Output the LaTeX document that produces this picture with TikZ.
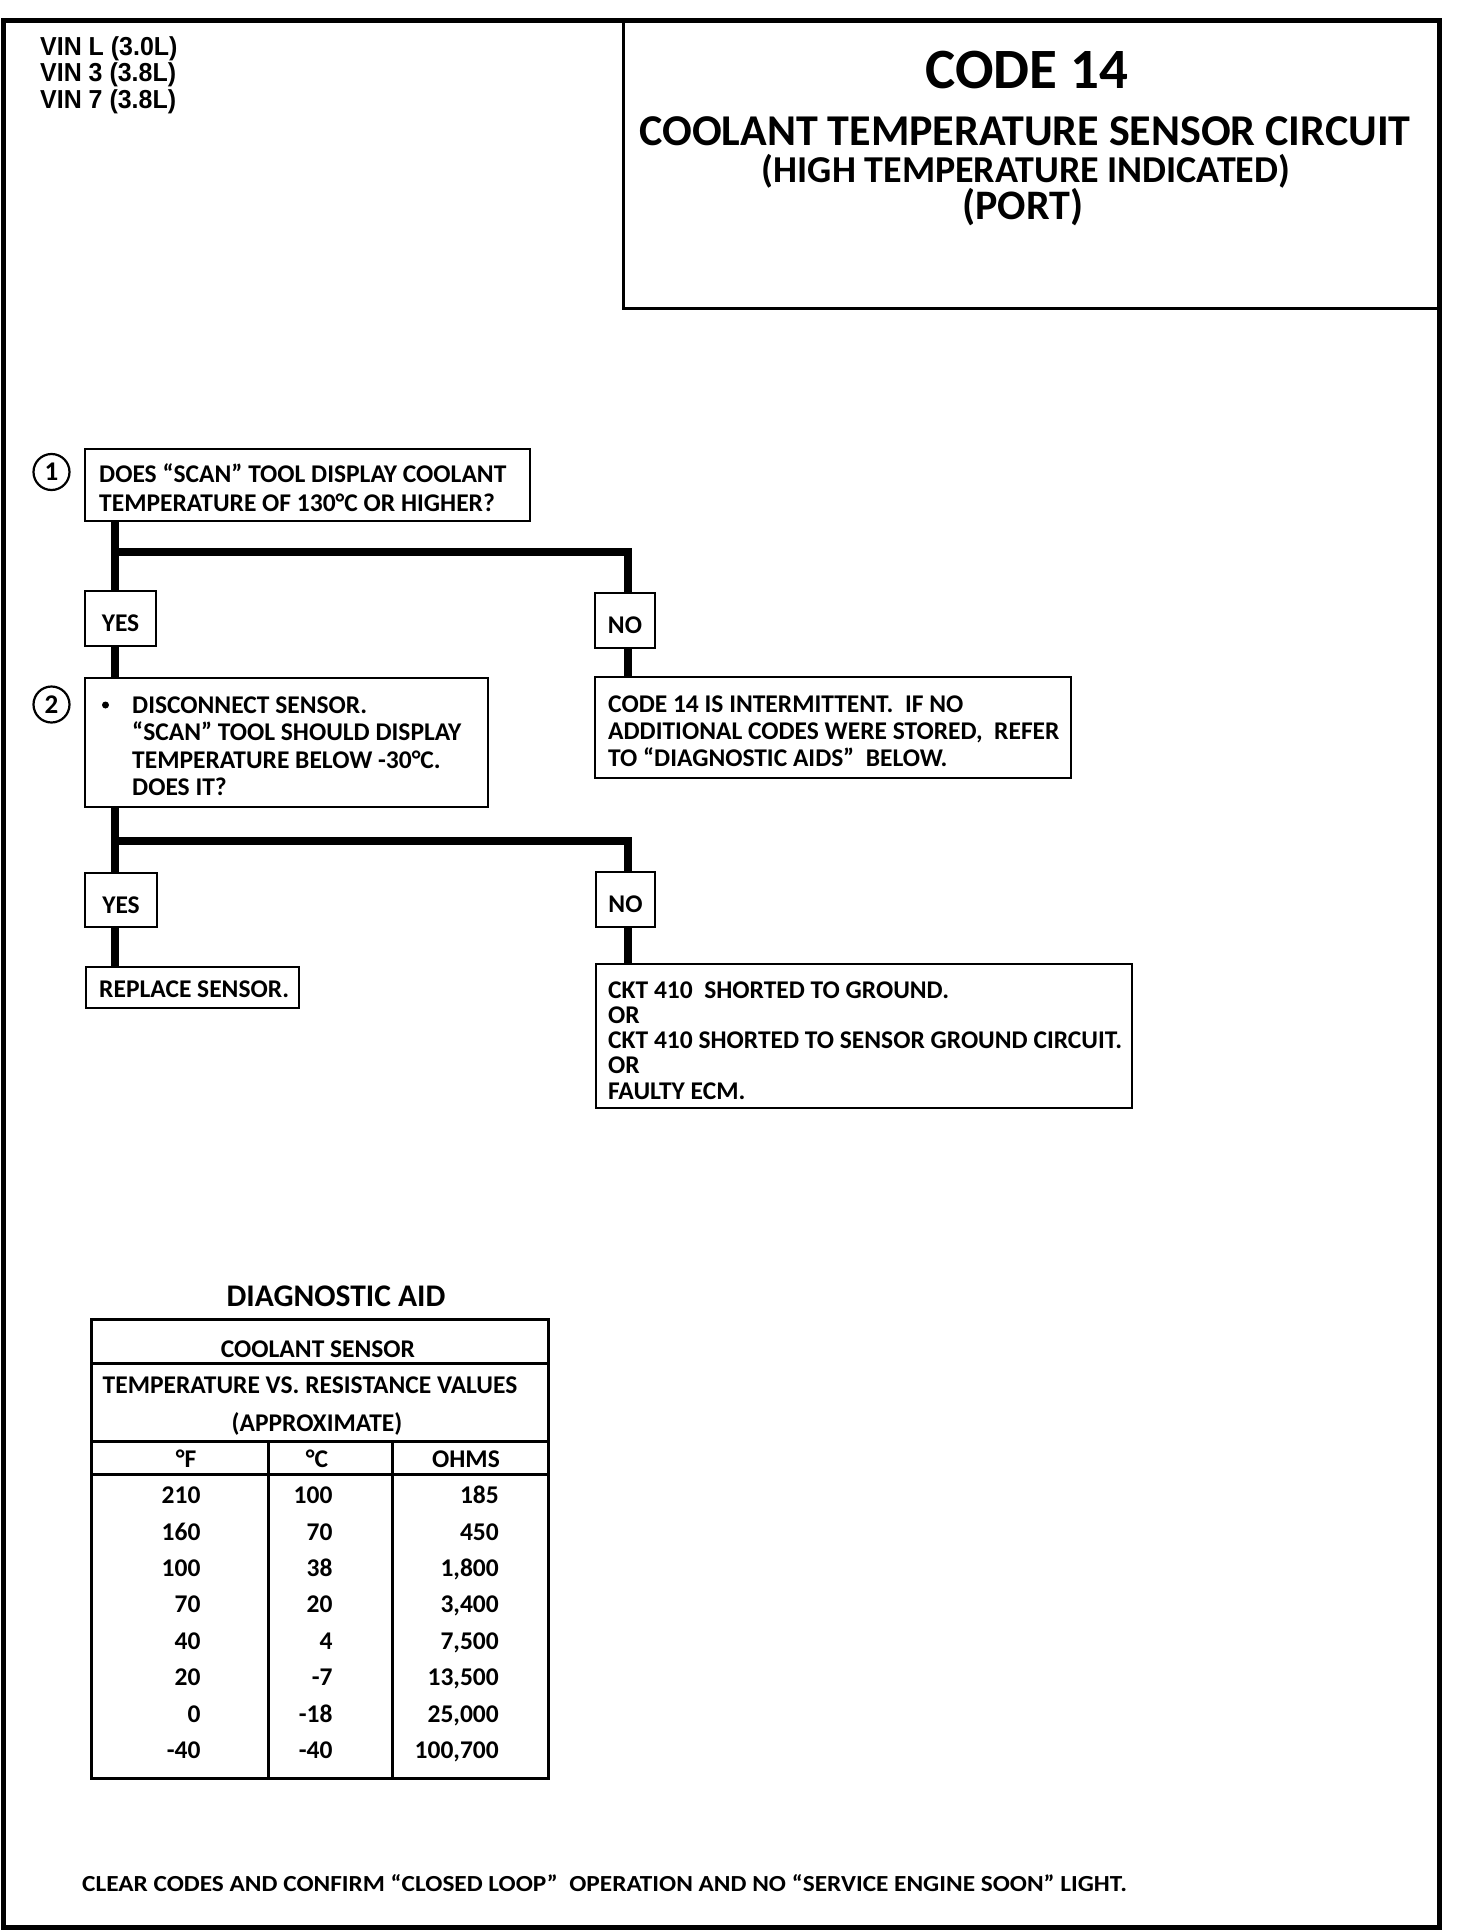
\documentclass[tikz,border=0pt]{standalone}
\usepackage{fontspec}
\setmainfont{Carlito}
\newfontfamily\vinfont{Liberation Sans}[FakeStretch=0.96]
\newfontfamily\widefont{Carlito}[FakeStretch=1.1]
\begin{document}
\begin{tikzpicture}[x=1pt,y=-1pt,
  frame/.style={line width=5pt},
  box/.style={draw, line width=2.6pt, anchor=north west, inner sep=0pt, outer sep=0pt},
  conn/.style={line width=7.5pt},
  tl/.style={anchor=base west, inner sep=0pt, font=\bfseries\fontsize{25.5}{26}\selectfont},
  tc/.style={anchor=base, inner sep=0pt, font=\bfseries\fontsize{25.5}{26}\selectfont},
  tr/.style={anchor=base east, inner sep=0pt, font=\bfseries\fontsize{25.5}{26}\selectfont},
  hd/.style={anchor=base, inner sep=0pt},
  vin/.style={anchor=base west, inner sep=0pt, font=\vinfont\bfseries\fontsize{26}{27}\selectfont},
  num/.style={circle, draw, line width=2.2pt, minimum size=36pt, inner sep=0pt, font=\bfseries\fontsize{27}{28}\selectfont},
  tline/.style={line width=3pt}
]
\useasboundingbox (0,0) rectangle (1472,1932);

% outer frame and header box
\draw[frame] (3,21) rectangle (1439,1927);
\draw[line width=3pt] (623,21) -- (623,308) -- (1439,308);

% VIN labels
\node[vin] (vin1) at (40,56) {VIN L (3.0L)};
\node[vin] (vin2) at (40,82) {VIN 3 (3.8L)};
\node[vin] (vin3) at (40,108.5) {VIN 7 (3.8L)};

% header texts
\node[hd, font=\bfseries\fontsize{57}{60}\selectfont] (code) at (1027,89) {CODE 14};
\node[hd, font=\bfseries\fontsize{44}{46}\selectfont] (title) at (1025,146) {COOLANT TEMPERATURE SENSOR CIRCUIT};
\node[hd, font=\bfseries\fontsize{38}{40}\selectfont] (sub) at (1026,182) {(HIGH TEMPERATURE INDICATED)};
\node[hd, font=\bfseries\fontsize{42}{44}\selectfont] (port) at (1023,219) {(PORT)};

% step 1
\node[num] (n1) at (51.5,472) {1};
\node[box, minimum width=445pt, minimum height=72pt] (q1) at (85,449) {};
\node[tl] (q1a) at (99,482) {DOES “SCAN” TOOL DISPLAY COOLANT};
\node[tl] (q1b) at (99,511) {TEMPERATURE OF 130°C OR HIGHER?};

\node[box, minimum width=71pt, minimum height=55pt] (yes1) at (85,591) {};
\node[tc] (yes1t) at (120.5,631) {YES};
\node[box, minimum width=60pt, minimum height=55pt] (no1) at (595,593) {};
\node[tc] (no1t) at (625,633) {NO};

\coordinate (j1) at (115,552);
\coordinate (j1r) at (628,552);

% step 2
\node[num] (n2) at (51.5,704.5) {2};
\node[box, minimum width=403pt, minimum height=129pt] (q2) at (85,678) {};
\node[circle, fill, minimum size=7pt, inner sep=0pt] (bul) at (105.5,705) {};
\node[tl] (q2a) at (132,713) {DISCONNECT SENSOR.};
\node[tl] (q2b) at (132,740.5) {“SCAN” TOOL SHOULD DISPLAY};
\node[tl] (q2c) at (132,768) {TEMPERATURE BELOW -30°C.};
\node[tl] (q2d) at (132,795.5) {DOES IT?};

% result: intermittent
\node[box, minimum width=476pt, minimum height=101pt] (r1) at (595,677) {};
\node[tl] (r1a) at (608,712.6) {CODE 14 IS INTERMITTENT.\ \ IF NO};
\node[tl] (r1b) at (608,739.7) {ADDITIONAL CODES WERE STORED,\ \ REFER};
\node[tl] (r1c) at (608,766.8) {TO “DIAGNOSTIC AIDS”\ \ BELOW.};

% second branch
\node[box, minimum width=72pt, minimum height=54pt] (yes2) at (85,873) {};
\node[tc] (yes2t) at (121,913) {YES};
\node[box, minimum width=59pt, minimum height=55pt] (no2) at (596,872) {};
\node[tc] (no2t) at (625.5,912) {NO};

\coordinate (j2) at (115,841);
\coordinate (j2r) at (628,841);

\node[box, minimum width=213pt, minimum height=41pt] (r2) at (86,967) {};
\node[tl] (r2a) at (99,997) {REPLACE SENSOR.};

\node[box, minimum width=536pt, minimum height=144pt] (r3) at (596,964) {};
\node[tl] (r3a) at (608,998) {CKT 410\ \ SHORTED TO GROUND.};
\node[tl] (r3b) at (608,1023.3) {OR};
\node[tl] (r3c) at (608,1048.6) {CKT 410 SHORTED TO SENSOR GROUND CIRCUIT.};
\node[tl] (r3d) at (608,1073.9) {OR};
\node[tl] (r3e) at (608,1099.2) {FAULTY ECM.};

% connectors
\draw[conn] (q1.south -| j1) -- (yes1.north -| j1);
\draw[conn] (j1) -- (j1r) -- (no1.north -| j1r);
\draw[conn] (yes1.south -| j1) -- (q2.north -| j1);
\draw[conn] (no1.south -| j1r) -- (r1.north -| j1r);
\draw[conn] (q2.south -| j2) -- (yes2.north -| j2);
\draw[conn] (j2) -- (j2r) -- (no2.north -| j2r);
\draw[conn] (yes2.south -| j2) -- (r2.north -| j2);
\draw[conn] (no2.south -| j2r) -- (r3.north -| j2r);

% diagnostic aid table
\node[hd, font=\bfseries\fontsize{31.5}{33}\selectfont] (dtitle) at (336,1306) {DIAGNOSTIC AID};
\node[box, line width=3pt, minimum width=457pt, minimum height=459pt] (tbl) at (91,1319) {};
\coordinate (h1) at (0,1363);
\coordinate (h2) at (0,1441);
\coordinate (h3) at (0,1474);
\coordinate (v1) at (268,0);
\coordinate (v2) at (392,0);
\draw[tline] (tbl.west |- h1) -- (tbl.east |- h1);
\draw[tline] (tbl.west |- h2) -- (tbl.east |- h2);
\draw[tline] (tbl.west |- h3) -- (tbl.east |- h3);
\draw[tline] (h2 -| v1) -- (tbl.south -| v1);
\draw[tline] (h2 -| v2) -- (tbl.south -| v2);

\node[tc] (t1) at (318,1357) {COOLANT SENSOR};
\node[tc] (t2) at (310,1393) {TEMPERATURE VS. RESISTANCE VALUES};
\node[tc] (t3) at (317,1431.6) {(APPROXIMATE)};
\node[tc] (cf) at (186,1467) {°F};
\node[tc] (cc) at (317,1467) {°C};
\node[tc] (co) at (466,1467) {OHMS};

\foreach \f/\c/\o [count=\i from 0] in {210/100/185, 160/70/450, 100/38/{1,800}, 70/20/{3,400}, 40/4/{7,500}, 20/-7/{13,500}, 0/-18/{25,000}, -40/-40/{100,700}}{
  \node[tr] (f\i) at (200.7,1503.7+36.42*\i) {\f};
  \node[tr] (c\i) at (332.7,1503.7+36.42*\i) {\c};
  \node[tr] (o\i) at (499,1503.7+36.42*\i) {\o};
}

% bottom note
\node[anchor=base west, inner sep=0pt, font=\widefont\bfseries\fontsize{23}{24}\selectfont] (note) at (82,1891) {CLEAR CODES AND CONFIRM “CLOSED LOOP”\ \ OPERATION AND NO “SERVICE ENGINE SOON” LIGHT.};
\end{tikzpicture}
\end{document}
